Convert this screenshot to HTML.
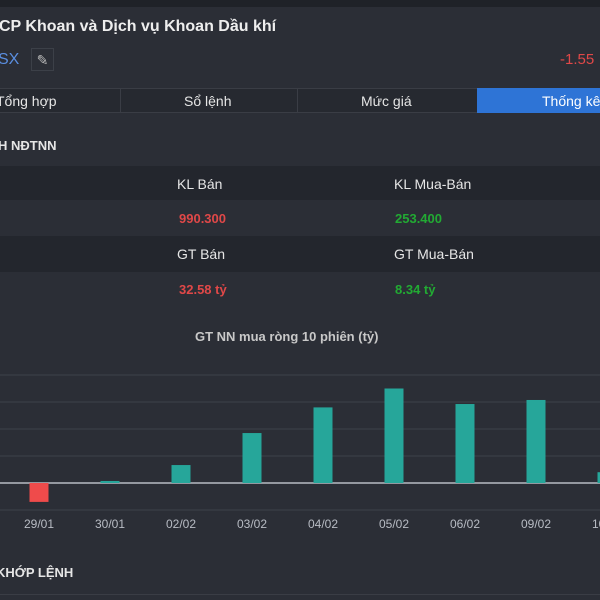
<!DOCTYPE html>
<html><head><meta charset="utf-8"><style>
body{margin:0;width:600px;height:600px;overflow:hidden;background:#2b2e36;font-family:"Liberation Sans",sans-serif;color:#e6e6e6;position:relative}
.a{position:absolute;white-space:nowrap}
</style></head><body>
<div class="a" style="left:0;top:0;width:600px;height:7px;background:#1f2228"></div>
<div class="a" style="left:-1px;top:18px;font-size:16px;font-weight:bold;color:#eee">CP Khoan và Dịch vụ Khoan Dầu khí</div>
<div class="a" style="left:-2px;top:51px;font-size:16px;color:#5a8ee0">SX</div>
<div class="a" style="left:31px;top:48px;width:23px;height:23px;border:1px solid #3c4048;box-sizing:border-box;color:#bbb;font-size:14px;text-align:center;line-height:22px">✎</div>
<div class="a" style="left:560px;top:51px;font-size:15px;color:#e04848">-1.55</div>
<div class="a" style="left:0;top:88px;width:600px;height:25px;background:#262930;border-top:1px solid #3a3d45;border-bottom:1px solid #3a3d45;box-sizing:border-box"></div>
<div class="a" style="left:-4px;top:93px;font-size:14px;color:#e6e6e6">Tổng hợp</div>
<div class="a" style="left:120px;top:89px;width:1px;height:23px;background:#3a3d45"></div>
<div class="a" style="left:184px;top:93px;font-size:14px">Sổ lệnh</div>
<div class="a" style="left:297px;top:89px;width:1px;height:23px;background:#3a3d45"></div>
<div class="a" style="left:361px;top:93px;font-size:14px">Mức giá</div>
<div class="a" style="left:477px;top:88px;width:123px;height:25px;background:#2e74d6;font-size:14px;color:#fff;padding:5px 0 0 65px;box-sizing:border-box">Thống kê</div>
<div class="a" style="left:-2px;top:138px;font-size:13px;font-weight:bold">H NĐTNN</div>
<div class="a" style="left:0;top:166px;width:600px;height:34px;background:#23262d"></div>
<div class="a" style="left:0;top:236px;width:600px;height:36px;background:#23262d"></div>
<div class="a" style="left:177px;top:176px;font-size:14px">KL Bán</div>
<div class="a" style="left:394px;top:176px;font-size:14px">KL Mua-Bán</div>
<div class="a" style="left:179px;top:211px;font-size:13px;font-weight:bold;color:#e04848">990.300</div>
<div class="a" style="left:395px;top:211px;font-size:13px;font-weight:bold;color:#22aa33">253.400</div>
<div class="a" style="left:177px;top:246px;font-size:14px">GT Bán</div>
<div class="a" style="left:394px;top:246px;font-size:14px">GT Mua-Bán</div>
<div class="a" style="left:179px;top:282px;font-size:13px;font-weight:bold;color:#e04848">32.58 tỷ</div>
<div class="a" style="left:395px;top:282px;font-size:13px;font-weight:bold;color:#22aa33">8.34 tỷ</div>
<div class="a" style="left:195px;top:329px;font-size:13px;font-weight:bold;color:#c8c8c8">GT NN mua ròng 10 phiên (tỷ)</div>
<svg class="a" style="left:0;top:360px" width="600" height="180" id="chart"></svg>
<div class="a" style="left:-4px;top:565px;font-size:13px;font-weight:bold">KHỚP LỆNH</div>
<div class="a" style="left:0;top:594px;width:600px;height:1px;background:#3a3d45"></div>
<script>
const categories=["29/01","30/01","02/02","03/02","04/02","05/02","06/02","09/02","10/02"];
const values=[-1.4,0.15,1.33,3.7,5.6,7.0,5.85,6.15,0.8];
const gridTicks=[-2,0,2,4,6,8];
const svg=document.getElementById('chart');
const NS='http://www.w3.org/2000/svg';
const zeroY=123, pxPer=13.5;
function y(v){return zeroY-v*pxPer;}
function x(i){return 39+i*71;}
gridTicks.forEach(t=>{
  const l=document.createElementNS(NS,'line');
  
  
  l.setAttribute('x1',0);l.setAttribute('x2',600);
  l.setAttribute('y1',y(t));l.setAttribute('y2',y(t));
  l.setAttribute('stroke',t===0?'#b8bcc4':'#3d414a');l.setAttribute('stroke-width',t===0?1.5:1);
  svg.appendChild(l);
});
values.forEach((v,i)=>{
  const r=document.createElementNS(NS,'rect');
  
  
  r.setAttribute('x',x(i)-9.5);r.setAttribute('width',19);
  r.setAttribute('y',Math.min(y(v),zeroY));r.setAttribute('height',Math.abs(v*pxPer));
  r.setAttribute('fill',v<0?'#ef4b4b':'#26a69a');
  svg.appendChild(r);
  const t=document.createElementNS(NS,'text');
  
  
  t.setAttribute('x',x(i));t.setAttribute('y',168);
  t.setAttribute('text-anchor','middle');t.setAttribute('fill','#b8bcc4');
  t.setAttribute('font-size','12');t.setAttribute('font-family','Liberation Sans, sans-serif');
  t.textContent=categories[i];
  svg.appendChild(t);
});
</script>
</body></html>
